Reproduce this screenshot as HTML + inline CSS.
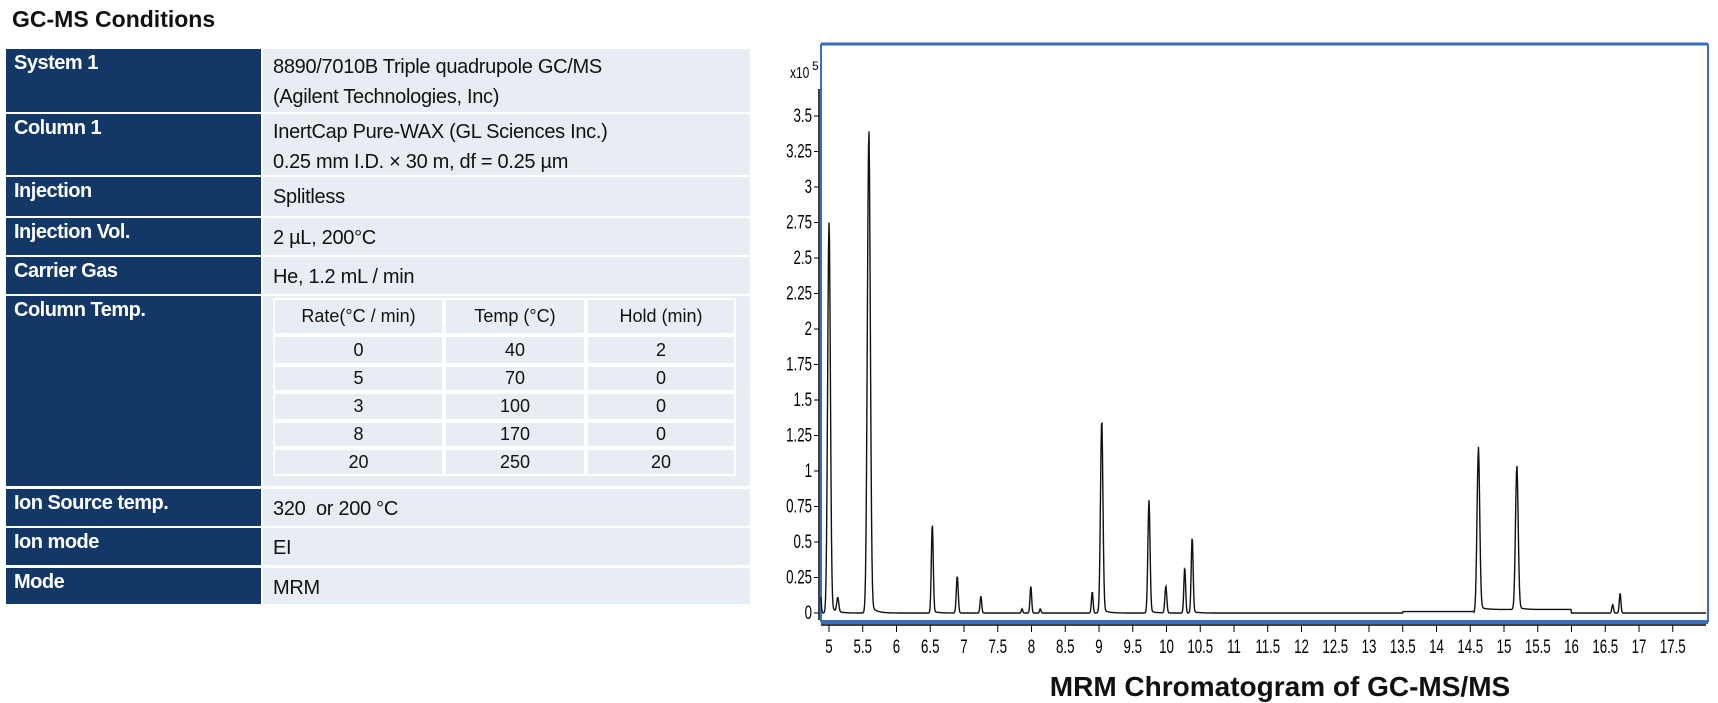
<!DOCTYPE html>
<html><head><meta charset="utf-8">
<style>
body{margin:0;width:1718px;height:703px;background:#fff;position:relative;overflow:hidden;font-family:"Liberation Sans",sans-serif}
.a{position:absolute;box-sizing:border-box}
.l{background:#133766;color:#fff;font-weight:bold;font-size:20px;padding:3px 0 0 8px;letter-spacing:-0.5px}
.v{background:#e8ecf3;color:#111;font-size:20px;padding:3px 0 0 10px;line-height:30px;letter-spacing:-0.3px}
.c{background:#e8ecf3;color:#111;font-size:18px;text-align:center;border:2px solid #fff;line-height:24px;white-space:nowrap}
</style></head><body>
<div class="a" style="left:12px;top:6px;font-size:23px;font-weight:bold;color:#111">GC-MS Conditions</div>
<div id="tbl"></div>
<svg class="a" style="left:0;top:0" width="1718" height="703" id="s"></svg>
<div class="a" style="left:1000px;top:671px;width:560px;text-align:center;font-size:28px;font-weight:bold;color:#111;white-space:nowrap">MRM Chromatogram of GC-MS/MS</div>
<script>
var rows=[["System 1","8890/7010B Triple quadrupole GC/MS<br>(Agilent Technologies, Inc)",49,112],["Column 1","InertCap Pure-WAX (GL Sciences Inc.)<br>0.25 mm I.D. &times; 30 m, df = 0.25 µm",114,175],["Injection","Splitless",177,216],["Injection Vol.","2 µL, 200°C",218,255],["Carrier Gas","He, 1.2 mL / min",257,294],["Column Temp.","",296,486],["Ion Source temp.","320&nbsp; or 200 °C",489,526],["Ion mode","EI",528,565],["Mode","MRM",568,604]];
var h="";
rows.forEach(function(r){h+='<div class="a l" style="left:6px;top:'+r[2]+'px;width:255px;height:'+(r[3]-r[2])+'px">'+r[0]+'</div>';
h+='<div class="a v" style="left:263px;top:'+r[2]+'px;width:487px;height:'+(r[3]-r[2])+'px;'+(r[1].indexOf('<br>')<0?'padding-top:5px':'')+'">'+r[1]+'</div>';});
var cx=[[273,444],[444,586],[586,736]],ry=[[298,335],[335,365],[365,392],[392,421],[421,448],[448,476]];
var d=[["Rate(°C / min)","Temp (°C)","Hold (min)"],["0","40","2"],["5","70","0"],["3","100","0"],["8","170","0"],["20","250","20"]];
for(var i=0;i<6;i++)for(var j=0;j<3;j++){var H=ry[i][1]-ry[i][0];h+='<div class="a c" style="left:'+cx[j][0]+'px;top:'+ry[i][0]+'px;width:'+(cx[j][1]-cx[j][0])+'px;height:'+H+'px;line-height:'+(H-4)+'px">'+d[i][j]+'</div>';}
document.getElementById('tbl').innerHTML=h;
var s="";
function X(t){return 829+(t-5)*67.5}function Y(v){return 613-v*142}
s+='<line x1="821" y1="44" x2="1708" y2="44" stroke="#3a6cc0" stroke-width="3"/>';
s+='<line x1="821" y1="44" x2="821" y2="622" stroke="#3a6cc0" stroke-width="2"/>';
s+='<line x1="1708" y1="44" x2="1708" y2="622" stroke="#3a6cc0" stroke-width="2"/>';
s+='<line x1="821" y1="622" x2="1708" y2="622" stroke="#3a6cc0" stroke-width="4"/>';
s+='<line x1="819" y1="89" x2="819" y2="620" stroke="#000" stroke-width="1.5"/>';
s+='<line x1="821" y1="625" x2="1706" y2="625" stroke="#000" stroke-width="1.5"/>';
s+='<text x="790" y="78" font-size="16" transform="translate(790 0) scale(0.75 1) translate(-790 0)">x10</text><text x="812" y="70" font-size="12">5</text>';
for(var v=0;v<=3.5001;v+=0.25){var y=Y(v);s+='<line x1="814" y1="'+y+'" x2="819" y2="'+y+'" stroke="#000"/>';
s+='<text x="812" y="'+(y+6)+'" font-size="19" text-anchor="end" transform="translate(812 0) scale(0.7 1) translate(-812 0)">'+(+v.toFixed(2))+'</text>';}
for(var t=5;t<=17.5001;t+=0.5){var x=X(t);s+='<line x1="'+x+'" y1="625" x2="'+x+'" y2="632" stroke="#000"/>';
s+='<text x="'+x+'" y="653" font-size="19" text-anchor="middle" transform="translate('+x+' 0) scale(0.7 1) translate('+(-x)+' 0)">'+t+'</text>';}
var P=[[4.87,0.18,.012],[5.0,2.75,.02],[5.13,0.1,.015],[5.59,3.35,.022],[6.53,0.62,.014],[6.9,0.26,.014],[7.25,0.12,.012],[7.86,0.03,.01],[7.99,0.19,.012],[8.13,0.03,.01],[8.9,0.15,.012],[9.04,1.35,.018],[9.74,0.78,.016],[9.99,0.19,.014],[10.27,0.32,.013],[10.38,0.53,.014],[14.62,1.13,.02],[15.19,1.0,.02],[16.61,0.06,.012],[16.72,0.14,.012]];
var pts=[];
for(var px=821;px<=1706;px+=0.5){var tt=5+(px-829)/67.5,val=0;
P.forEach(function(p){var dt=tt-p[0];val+=p[1]*Math.exp(-dt*dt/(2*p[2]*p[2]));if(dt>0&&p[1]>0.5)val+=p[1]*0.02*Math.exp(-dt/0.08);});
if(tt>13.5&&tt<14.55)val+=0.01;if(tt>14.62&&tt<16)val+=0.025;
pts.push(px.toFixed(1)+','+Y(val).toFixed(1));}
s+='<polyline points="'+pts.join(' ')+'" fill="none" stroke="#111" stroke-width="1.4"/>';
document.getElementById('s').innerHTML=s;
</script>
</body></html>
